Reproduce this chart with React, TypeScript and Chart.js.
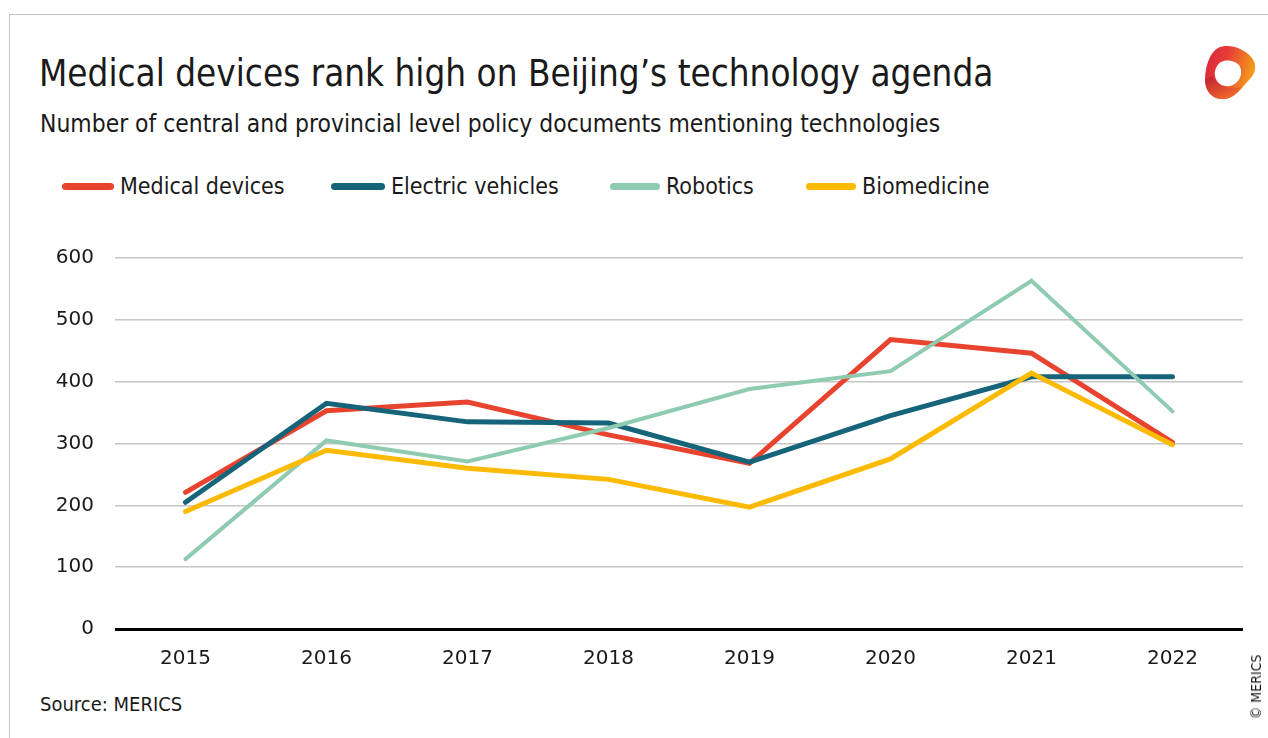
import React, { useEffect, useRef } from "react";
import { Chart, registerables } from "chart.js";

Chart.register(...registerables);

const years = ["2015", "2016", "2017", "2018", "2019", "2020", "2021", "2022"];
const medicalDevices = [221, 353, 367, 314, 268, 468, 446, 302];
const electricVehicles = [205, 365, 335, 333, 270, 345, 408, 408];
const robotics = [113, 305, 271, 325, 388, 417, 563, 352];
const biomedicine = [190, 289, 260, 242, 197, 275, 414, 298];
const yTicks = [0, 100, 200, 300, 400, 500, 600];

const seriesNames = ["Medical devices", "Electric vehicles", "Robotics", "Biomedicine"];
const seriesColors = ["#e8432e", "#16647a", "#8fcbb0", "#fcba03"];

const FONT = '"DejaVu Sans Condensed", "DejaVu Sans", sans-serif';
const TICK_FONT = '"DejaVu Sans", sans-serif';
const TEXT = "#1a1a1a";

export default function App() {
  const ref = useRef<HTMLCanvasElement | null>(null);

  useEffect(() => {
    document.body.style.margin = "0";
    if (!ref.current) return;
    const values = [medicalDevices, electricVehicles, robotics, biomedicine];
    const widths = [5, 5, 4, 5];
    const orders = [3, 2, 1, 0];
    const chart = new Chart(ref.current, {
      type: "line",
      data: {
        labels: years,
        datasets: values.map((v, i) => ({
          label: seriesNames[i],
          data: v,
          borderColor: seriesColors[i],
          backgroundColor: seriesColors[i],
          borderWidth: widths[i],
          pointRadius: 0,
          borderCapStyle: "round" as const,
          borderJoinStyle: "miter" as const,
          tension: 0,
          order: orders[i],
        })),
      },
      options: {
        animation: false,
        responsive: false,
        maintainAspectRatio: false,
        layout: { padding: { top: 24, right: 25, bottom: 1, left: 0 } },
        plugins: {
          legend: { display: false },
          title: { display: false },
          tooltip: { enabled: false },
        },
        scales: {
          x: {
            offset: true,
            grid: { display: false, drawTicks: false },
            border: { display: false },
            ticks: {
              color: TEXT,
              font: { family: TICK_FONT, size: 20 },
              padding: 18,
              maxRotation: 0,
            },
            afterFit: (s: any) => {
              s.height = 60;
            },
          },
          y: {
            min: 0,
            max: 600,
            afterBuildTicks: (s: any) => {
              s.ticks = yTicks.map((v) => ({ value: v }));
            },
            grid: {
              drawTicks: false,
              color: (c: any) => (c.tick && c.tick.value === 0 ? "#000000" : "#c6c6c6"),
              lineWidth: (c: any) => (c.tick && c.tick.value === 0 ? 3 : 1.5),
            },
            border: { display: false },
            ticks: {
              color: TEXT,
              font: { family: TICK_FONT, size: 20 },
              padding: 21,
            },
            afterFit: (s: any) => {
              s.width = 115;
            },
          },
        },
      },
    });
    return () => chart.destroy();
  }, []);

  const legendItems = [
    { line: 62, text: 120 },
    { line: 331, text: 391 },
    { line: 610, text: 666 },
    { line: 806, text: 862 },
  ];

  return (
    <div
      style={{
        position: "fixed",
        left: 0,
        top: 0,
        width: 1268,
        height: 738,
        background: "#ffffff",
        overflow: "hidden",
        fontFamily: FONT,
        color: TEXT,
      }}
    >
      <div
        style={{
          position: "absolute",
          left: 9,
          top: 14,
          width: 1400,
          height: 900,
          border: "1.5px solid #c4c4c4",
        }}
      />
      <div
        style={{
          position: "absolute",
          left: 39,
          top: 50,
          fontSize: 36.5,
          lineHeight: "48px",
          whiteSpace: "nowrap",
        }}
      >
        Medical devices rank high on Beijing’s technology agenda
      </div>
      <div
        style={{
          position: "absolute",
          left: 40,
          top: 109,
          fontSize: 24.4,
          lineHeight: "30px",
          whiteSpace: "nowrap",
        }}
      >
        Number of central and provincial level policy documents mentioning technologies
      </div>
      {legendItems.map((it, i) => (
        <React.Fragment key={i}>
          <div
            style={{
              position: "absolute",
              left: it.line,
              top: 183,
              width: it.text - it.line - 6,
              height: 7,
              borderRadius: 4,
              background: seriesColors[i],
            }}
          />
          <div
            style={{
              position: "absolute",
              left: it.text,
              top: 171,
              fontSize: 23,
              lineHeight: "30px",
              whiteSpace: "nowrap",
            }}
          >
            {seriesNames[i]}
          </div>
        </React.Fragment>
      ))}
      <canvas
        ref={ref}
        width={1268}
        height={465}
        style={{ position: "absolute", left: 0, top: 225, width: 1268, height: 465 }}
      />
      <div
        style={{
          position: "absolute",
          left: 40,
          top: 690,
          fontSize: 20,
          lineHeight: "28px",
          whiteSpace: "nowrap",
        }}
      >
        Source: MERICS
      </div>
      <div
        style={{
          position: "absolute",
          left: 1256,
          top: 687,
          fontSize: 14,
          lineHeight: "18px",
          whiteSpace: "nowrap",
          transform: "translate(-50%, -50%) rotate(-90deg)",
        }}
      >
        © MERICS
      </div>
      <svg
        style={{ position: "absolute", left: 1200, top: 42 }}
        width={60}
        height={62}
        viewBox="0 0 60 62"
      >
        <defs>
          <linearGradient id="lg1" x1="0" y1="0" x2="1" y2="0.3">
            <stop offset="0" stopColor="#d6263a" />
            <stop offset="0.45" stopColor="#e63b3a" />
            <stop offset="1" stopColor="#f39a1a" />
          </linearGradient>
          <linearGradient id="lg2" x1="0" y1="0" x2="0.6" y2="1">
            <stop offset="0" stopColor="#b81d30" />
            <stop offset="1" stopColor="#f06a2a" />
          </linearGradient>
        </defs>
        <path
          d="M18 6 C28 1 44 6 52 16 C58 24 55 32 49 38 C43 44 36 56 24 57 C13 58 5 50 5 38 C5 26 9 11 18 6 Z"
          fill="url(#lg1)"
        />
        <path
          d="M5 38 C6 50 14 58 25 57 C33 56 38 50 41 45 C31 48 19 46 12 34 Z"
          fill="url(#lg2)"
          opacity={0.92}
        />
        <path
          d="M17 24 C21 17 32 17 38 22 C43 27 42 36 36 41 C30 46 21 45 17 39 C14 34 14 29 17 24 Z"
          fill="#ffffff"
        />
      </svg>
    </div>
  );
}
